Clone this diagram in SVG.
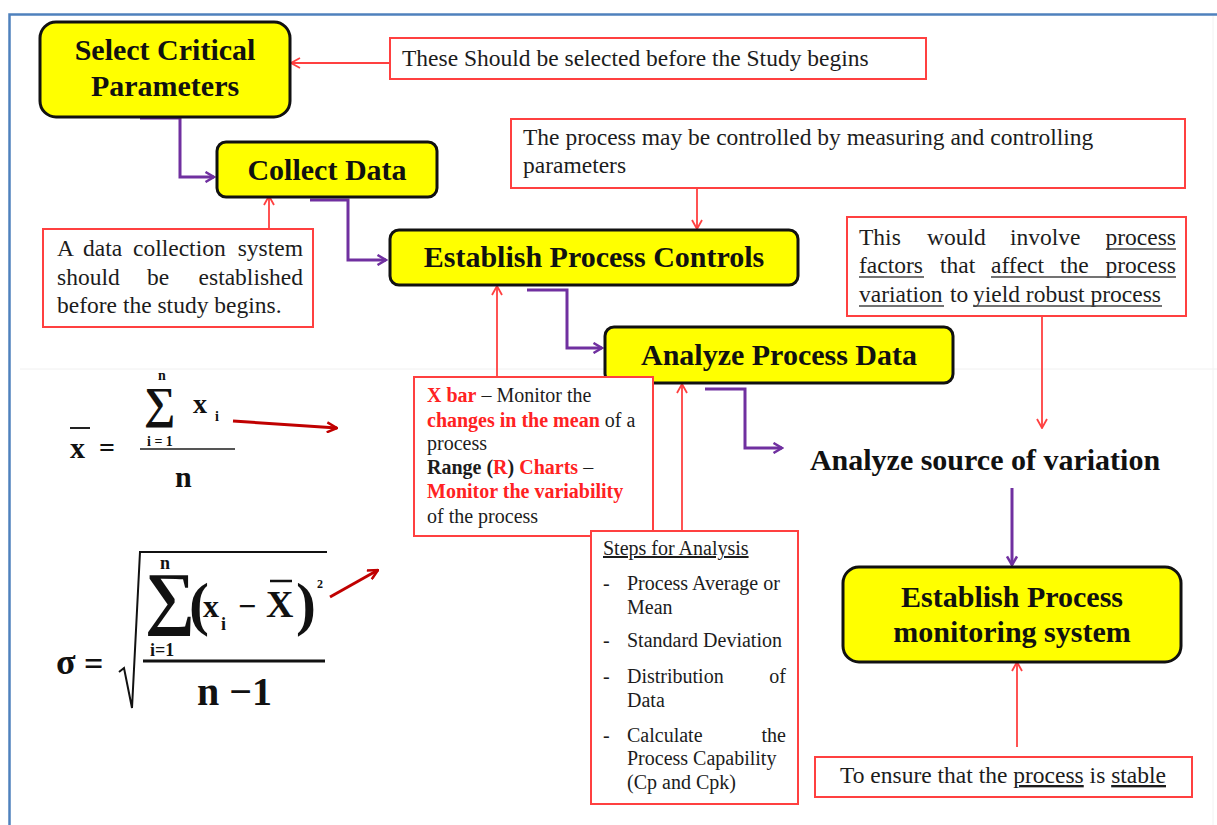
<svg xmlns="http://www.w3.org/2000/svg" width="1217" height="825" viewBox="0 0 1217 825">
<style>
.node{fill:#FFFF00;stroke:#111;stroke-width:3}
.nt{font-family:"Liberation Serif",serif;font-weight:bold;font-size:30px;fill:#111;text-anchor:middle}
.note{fill:#fff;stroke:#FF4040;stroke-width:2}
.t22{font-family:"Liberation Serif",serif;font-size:23.5px;fill:#1c1c1c}
.t20{font-family:"Liberation Serif",serif;font-size:20px;fill:#1c1c1c}
.b{font-weight:bold}
.red{fill:#FF2222}
.u{text-decoration:underline}
.ul{stroke:#444;stroke-width:1.3}
.pc{fill:none;stroke:#7030A0;stroke-width:3}
.rc{fill:none;stroke:#FF4040;stroke-width:1.8}
.dc{fill:none;stroke:#C00000;stroke-width:3}
.m{font-family:"Liberation Serif","DejaVu Serif",serif;font-weight:bold;fill:#111}
</style>
<defs>
<marker id="ap" viewBox="0 0 12 12" refX="10.5" refY="6" markerWidth="12" markerHeight="12" orient="auto" markerUnits="userSpaceOnUse"><path d="M2,1 L10.5,6 L2,11" fill="none" stroke="#7030A0" stroke-width="2.5"/></marker>
<marker id="ar" viewBox="0 0 12 12" refX="11" refY="6" markerWidth="12" markerHeight="12" orient="auto" markerUnits="userSpaceOnUse"><path d="M2,1 L11,6 L2,11" fill="none" stroke="#FF4040" stroke-width="1.8"/></marker>
<marker id="ad" viewBox="0 0 12 12" refX="11" refY="6" markerWidth="12" markerHeight="12" orient="auto" markerUnits="userSpaceOnUse"><path d="M1,1 L11,6 L1,11" fill="none" stroke="#C00000" stroke-width="2.5"/></marker>
</defs>
<rect width="1217" height="825" fill="#fff"/>
<line x1="20" y1="369" x2="1217" y2="369" stroke="#f0f0f0" stroke-width="1"/>
<line x1="1213" y1="16" x2="1213" y2="825" stroke="#f2f2f2" stroke-width="1"/>
<path d="M9.5,825 L9.5,14.5 L1217,14.5" fill="none" stroke="#4F81BD" stroke-width="2.5"/>

<g id="connectors">
<path class="pc" d="M140,118 L180,118 L180,177 L214,177" marker-end="url(#ap)"/>
<path class="pc" d="M310,200 L348,200 L348,260 L386,260" marker-end="url(#ap)"/>
<path class="pc" d="M527,290 L567,290 L567,348 L602,348" marker-end="url(#ap)"/>
<path class="pc" d="M705,389 L745,389 L745,448 L782,448" marker-end="url(#ap)"/>
<path class="pc" d="M1012,488 L1012,565" marker-end="url(#ap)"/>
<path class="rc" d="M390,63 L291,63" marker-end="url(#ar)"/>
<path class="rc" d="M697,188 L697,229" marker-end="url(#ar)"/>
<path class="rc" d="M269,229 L269,196" marker-end="url(#ar)"/>
<path class="rc" d="M497,377 L497,286" marker-end="url(#ar)"/>
<path class="rc" d="M682,531 L682,384" marker-end="url(#ar)"/>
<path class="rc" d="M1042,316 L1042,428" marker-end="url(#ar)"/>
<path class="rc" d="M1017,747 L1017,662" marker-end="url(#ar)"/>
<path class="dc" d="M233,421 L337,428" marker-end="url(#ad)"/>
<path class="dc" d="M330,597 L378,570" marker-end="url(#ad)"/>
</g>

<g id="select">
<rect class="node" x="40" y="22" width="250" height="95" rx="16"/>
<text class="nt" x="165" y="60">Select Critical</text>
<text class="nt" x="165" y="96">Parameters</text>
</g>
<g id="collect">
<rect class="node" x="217" y="142" width="220" height="55" rx="9"/>
<text class="nt" x="327" y="180">Collect Data</text>
</g>
<g id="controls">
<rect class="node" x="390" y="230" width="408" height="55" rx="9"/>
<text class="nt" x="594" y="267">Establish Process Controls</text>
</g>
<g id="analyze">
<rect class="node" x="605" y="327" width="348" height="56" rx="9"/>
<text class="nt" x="779" y="365">Analyze Process Data</text>
</g>
<g id="source">
<text class="nt" x="985" y="470">Analyze source of variation</text>
</g>
<g id="monitoring">
<rect class="node" x="843" y="567" width="338" height="95" rx="16"/>
<text class="nt" x="1012" y="607">Establish Process</text>
<text class="nt" x="1012" y="642">monitoring system</text>
</g>

<g id="noteA">
<rect class="note" x="390" y="38" width="536" height="41"/>
<text class="t22" x="402" y="66">These Should be selected before the Study begins</text>
</g>
<g id="noteB">
<rect class="note" x="511" y="119" width="674" height="69"/>
<text class="t22" x="523" y="145">The process may be controlled by measuring and controlling</text>
<text class="t22" x="523" y="173">parameters</text>
</g>
<g id="noteC">
<rect class="note" x="43" y="229" width="270" height="98"/>
<text class="t22" y="256"><tspan x="57">A</tspan><tspan x="83">data</tspan><tspan x="133">collection</tspan></text>
<text class="t22" x="303" y="256" text-anchor="end">system</text>
<text class="t22" y="285"><tspan x="57">should</tspan><tspan x="147">be</tspan></text>
<text class="t22" x="303" y="285" text-anchor="end">established</text>
<text class="t22" x="57" y="313">before the study begins.</text>
</g>
<g id="noteD">
<rect class="note" x="847" y="217" width="339" height="99"/>
<text class="t22" y="245"><tspan x="859">This</tspan><tspan x="927">would</tspan><tspan x="1010">involve</tspan></text>
<text class="t22" x="1176" y="245" text-anchor="end">process</text>
<text class="t22" y="273"><tspan x="859">factors</tspan><tspan x="940">that</tspan><tspan x="991">affect</tspan><tspan x="1060">the</tspan></text>
<text class="t22" x="1176" y="273" text-anchor="end">process</text>
<text class="t22" y="302"><tspan x="859">variation</tspan><tspan x="950">to</tspan><tspan x="973">yield robust process</tspan></text>
<line class="ul" x1="1106" y1="249" x2="1176" y2="249"/>
<line class="ul" x1="859" y1="277" x2="924" y2="277"/>
<line class="ul" x1="991" y1="277" x2="1176" y2="277"/>
<line class="ul" x1="859" y1="306" x2="944" y2="306"/>
<line class="ul" x1="973" y1="306" x2="1162" y2="306"/>
</g>
<g id="noteXbar">
<rect class="note" x="414" y="377" width="239" height="159"/>
<text class="t20" x="427" y="402"><tspan class="b red">X bar</tspan> – Monitor the</text>
<text class="t20" x="427" y="427"><tspan class="b red">changes in the mean</tspan> of a</text>
<text class="t20" x="427" y="450">process</text>
<text class="t20" x="427" y="474"><tspan class="b">Range (</tspan><tspan class="b red">R</tspan><tspan class="b">)</tspan><tspan class="b red"> Charts</tspan> –</text>
<text class="t20 b red" x="427" y="498">Monitor the variability</text>
<text class="t20" x="427" y="523">of the process</text>
</g>
<g id="noteSteps">
<rect class="note" x="591" y="531" width="207" height="273"/>
<text class="t20 u" x="603" y="555">Steps for Analysis</text>
<text class="t20" x="603" y="590">-</text>
<text class="t20" x="627" y="590">Process Average or</text>
<text class="t20" x="627" y="614">Mean</text>
<text class="t20" x="603" y="647">-</text>
<text class="t20" x="627" y="647">Standard Deviation</text>
<text class="t20" x="603" y="683">-</text>
<text class="t20" x="627" y="683">Distribution</text>
<text class="t20" x="786" y="683" text-anchor="end">of</text>
<text class="t20" x="627" y="707">Data</text>
<text class="t20" x="603" y="742">-</text>
<text class="t20" x="627" y="742">Calculate</text>
<text class="t20" x="786" y="742" text-anchor="end">the</text>
<text class="t20" x="627" y="765">Process Capability</text>
<text class="t20" x="627" y="789">(Cp and Cpk)</text>
</g>
<g id="noteG">
<rect class="note" x="815" y="757" width="377" height="40"/>
<text class="t22" x="840" y="783">To ensure that the <tspan class="u">process</tspan> is <tspan class="u">stable</tspan></text>
</g>

<g id="formula-mean">
<text class="m" x="70" y="458" font-size="30">x</text>
<line x1="70" y1="428" x2="90" y2="428" stroke="#222" stroke-width="2"/>
<text class="m" x="99" y="457" font-size="28">=</text>
<text class="m" x="144" y="418" font-size="44">∑</text>
<text class="m" x="158" y="380" font-size="14">n</text>
<text class="m" x="193" y="413" font-size="28">x</text>
<text class="m" x="215" y="421" font-size="14">i</text>
<text class="m" x="147" y="446" font-size="14">i = 1</text>
<line x1="140" y1="449" x2="235" y2="449" stroke="#555" stroke-width="2"/>
<text class="m" x="175" y="487" font-size="30">n</text>
</g>
<g id="formula-sigma">
<text class="m" x="56" y="674" font-size="36">σ</text>
<text class="m" x="84" y="675" font-size="34">=</text>
<path d="M119,672 L124,668 L132,708 L140,552 L327,552" fill="none" stroke="#111" stroke-width="2"/>
<text class="m" x="160" y="569" font-size="18">n</text>
<text class="m" x="145" y="621" font-size="70">∑</text>
<text class="m" x="189" y="624" font-size="60" font-weight="normal">(</text>
<text class="m" x="203" y="617" font-size="32">x</text>
<text class="m" x="221" y="630" font-size="18">i</text>
<text class="m" x="238" y="617" font-size="32">−</text>
<text class="m" x="266" y="617" font-size="38">X</text>
<line x1="270" y1="581" x2="292" y2="581" stroke="#111" stroke-width="2.5"/>
<text class="m" x="296" y="624" font-size="60" font-weight="normal">)</text>
<text class="m" x="317" y="588" font-size="12">2</text>
<text class="m" x="150" y="656" font-size="18">i=1</text>
<line x1="143" y1="661" x2="325" y2="661" stroke="#111" stroke-width="3"/>
<text class="m" x="197" y="705" font-size="40">n −1</text>
</g>
</svg>
